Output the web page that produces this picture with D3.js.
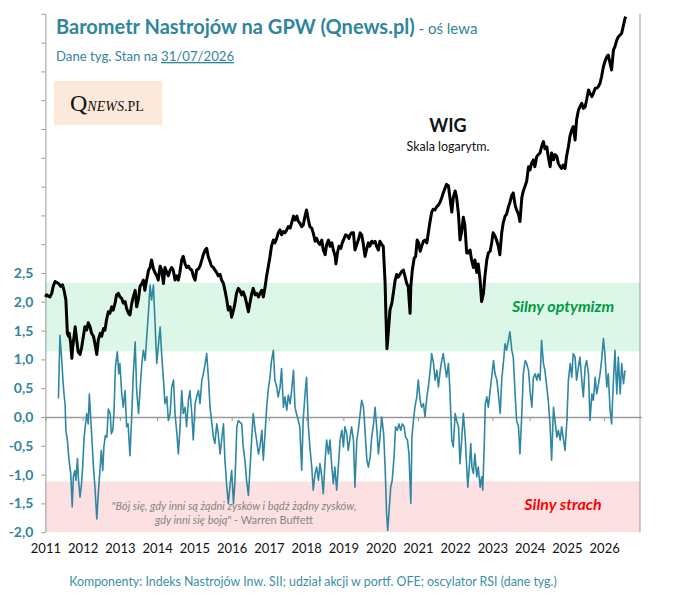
<!DOCTYPE html>
<html>
<head>
<meta charset="utf-8">
<script src="https://cdn.jsdelivr.net/npm/d3@7"></script>
<style>
  body { margin: 0; background: #fff; }
  svg { display: block; font-family: Lato, "Open Sans", sans-serif; }
</style>
</head>
<body>
<svg id="chart" width="673" height="605"></svg>
<script>
// x axis: years, left axis: barometer value (labels only -2,0 .. 2,5)
const yearTicks = [2011, 2012, 2013, 2014, 2015, 2016, 2017, 2018, 2019, 2020, 2021, 2022, 2023, 2024, 2025, 2026];
const leftTicks = [-2, -1.5, -1, -0.5, 0, 0.5, 1, 1.5, 2, 2.5, 3, 3.5, 4, 4.5, 5, 5.5, 6, 6.5, 7];
const lastLabelledTick = 2.5;

// strefy barometru
const optimismBand = [1.14, 2.33];
const fearBand = [-2.0, -1.12];

// WIG (skala logarytmiczna), [rok, punkty]
const wig = [
  [2011.00,47600],[2011.03,48000],[2011.12,47600],[2011.17,48300],[2011.21,49700],[2011.26,50700],[2011.35,50300],[2011.41,49700],
  [2011.46,50000],[2011.50,48900],[2011.55,47000],[2011.59,41000],[2011.62,40500],[2011.64,41000],[2011.68,39300],[2011.71,37000],
  [2011.73,38600],[2011.77,40500],[2011.80,42100],[2011.84,39900],[2011.88,38000],[2011.93,37600],[2011.97,38600],[2012.02,40500],
  [2012.06,42100],[2012.11,41550],[2012.15,42800],[2012.20,42100],[2012.24,41000],[2012.29,40500],[2012.33,39300],[2012.38,37600],
  [2012.42,39900],[2012.47,41000],[2012.51,40500],[2012.56,41800],[2012.60,41550],[2012.64,43300],[2012.69,44800],[2012.73,44500],
  [2012.78,45700],[2012.82,45100],[2012.87,46400],[2012.91,48000],[2012.96,48300],[2013.00,47600],[2013.05,47300],[2013.09,46400],
  [2013.14,46700],[2013.18,45400],[2013.23,44500],[2013.27,44200],[2013.32,46400],[2013.36,47600],[2013.41,48900],[2013.45,45700],
  [2013.50,47300],[2013.54,49700],[2013.59,50300],[2013.63,51000],[2013.67,48900],[2013.70,50300],[2013.74,51900],[2013.77,53150],
  [2013.81,53700],[2013.85,55400],[2013.90,53400],[2013.94,52600],[2013.99,51900],[2014.03,51000],[2014.08,54000],[2014.12,53150],
  [2014.17,50300],[2014.21,53700],[2014.26,52600],[2014.30,51900],[2014.35,53150],[2014.39,53700],[2014.43,53150],[2014.48,51000],
  [2014.52,51900],[2014.57,51000],[2014.61,52600],[2014.66,55400],[2014.70,56200],[2014.75,54500],[2014.79,53700],[2014.84,54000],
  [2014.88,53400],[2014.93,53150],[2014.97,51900],[2015.02,51000],[2015.06,53150],[2015.11,53400],[2015.15,54000],[2015.20,55400],
  [2015.24,56600],[2015.29,57700],[2015.33,58100],[2015.37,56200],[2015.42,55000],[2015.46,54000],[2015.51,53700],[2015.55,53150],
  [2015.60,52600],[2015.64,51900],[2015.69,52200],[2015.73,51000],[2015.78,50300],[2015.82,48900],[2015.87,47000],[2015.91,45100],
  [2015.96,45700],[2016.00,43800],[2016.05,45100],[2016.09,46400],[2016.13,48300],[2016.18,49300],[2016.22,48900],[2016.27,48000],
  [2016.31,48600],[2016.36,47600],[2016.40,46400],[2016.45,44800],[2016.49,46400],[2016.54,48300],[2016.58,49300],[2016.63,48000],
  [2016.67,48300],[2016.72,47600],[2016.76,48300],[2016.81,48900],[2016.85,47600],[2016.90,49700],[2016.94,51900],[2016.98,53700],
  [2017.03,56200],[2017.07,58600],[2017.12,60100],[2017.16,59400],[2017.21,60500],[2017.25,61900],[2017.30,62650],[2017.34,61400],
  [2017.39,62200],[2017.43,61900],[2017.48,62650],[2017.52,63500],[2017.57,63100],[2017.61,64450],[2017.66,66300],[2017.70,65250],
  [2017.75,66300],[2017.79,64850],[2017.83,64450],[2017.88,63500],[2017.92,63900],[2017.97,66300],[2018.01,68000],[2018.06,65250],
  [2018.10,63500],[2018.15,63100],[2018.19,61900],[2018.24,59800],[2018.28,60500],[2018.33,59400],[2018.37,59000],[2018.42,60100],
  [2018.46,57700],[2018.51,56600],[2018.55,59000],[2018.60,60100],[2018.64,58600],[2018.69,59400],[2018.73,57700],[2018.78,56200],
  [2018.80,54500],[2018.84,57000],[2018.88,58600],[2018.93,58100],[2018.97,59400],[2019.02,60500],[2019.06,61400],[2019.11,61100],
  [2019.15,60500],[2019.18,61400],[2019.22,61900],[2019.27,61900],[2019.31,57700],[2019.36,59000],[2019.40,60100],[2019.45,61900],
  [2019.49,61400],[2019.53,59400],[2019.58,56200],[2019.62,57700],[2019.67,59400],[2019.71,58600],[2019.76,59800],[2019.80,59400],
  [2019.85,59800],[2019.89,58600],[2019.94,57700],[2019.98,59800],[2020.03,59000],[2020.07,58600],[2020.12,50300],[2020.14,44500],
  [2020.17,38500],[2020.21,41550],[2020.25,45100],[2020.30,46400],[2020.34,48300],[2020.39,51000],[2020.43,52200],[2020.47,51600],
  [2020.52,52200],[2020.56,52800],[2020.61,53150],[2020.65,51900],[2020.70,50300],[2020.74,49700],[2020.79,44500],[2020.81,49700],
  [2020.85,53150],[2020.90,55800],[2020.94,56200],[2020.98,60100],[2021.02,59400],[2021.06,57400],[2021.10,58600],[2021.15,59800],
  [2021.19,60100],[2021.24,59400],[2021.28,61900],[2021.32,64450],[2021.37,67400],[2021.41,68200],[2021.46,68000],[2021.50,68800],
  [2021.55,69350],[2021.59,70100],[2021.64,71500],[2021.68,72900],[2021.73,74400],[2021.77,75500],[2021.82,75100],[2021.86,71500],
  [2021.91,67400],[2021.95,71500],[2022.00,73500],[2022.04,71500],[2022.09,66800],[2022.13,60100],[2022.17,61900],[2022.22,66000],
  [2022.26,63900],[2022.31,57000],[2022.35,57000],[2022.40,57700],[2022.44,55400],[2022.49,53700],[2022.53,55400],[2022.58,52600],
  [2022.62,54500],[2022.67,51000],[2022.71,46700],[2022.76,48300],[2022.80,51900],[2022.85,55400],[2022.89,57000],[2022.94,57400],
  [2022.98,59400],[2023.02,61900],[2023.07,61100],[2023.11,60100],[2023.16,58600],[2023.20,56600],[2023.25,61900],[2023.29,64450],
  [2023.34,66300],[2023.38,66800],[2023.43,68800],[2023.47,70100],[2023.52,72200],[2023.56,72900],[2023.61,69350],[2023.65,68000],
  [2023.70,66800],[2023.74,64850],[2023.79,71500],[2023.83,73500],[2023.88,75100],[2023.92,76500],[2023.97,81200],[2024.01,80100],
  [2024.05,82300],[2024.10,83500],[2024.14,81200],[2024.19,84600],[2024.23,85300],[2024.28,85900],[2024.32,88100],[2024.37,90000],
  [2024.41,87400],[2024.46,88100],[2024.50,84600],[2024.55,81200],[2024.59,85900],[2024.64,83500],[2024.68,85300],[2024.73,84600],
  [2024.77,82300],[2024.82,81200],[2024.86,80600],[2024.90,81700],[2024.95,80600],[2024.99,84600],[2025.04,88100],[2025.08,91800],
  [2025.13,94400],[2025.17,95700],[2025.22,90600],[2025.26,98400],[2025.31,102400],[2025.35,103800],[2025.40,105300],[2025.44,103100],
  [2025.49,103800],[2025.53,106800],[2025.58,111200],[2025.62,109700],[2025.67,108200],[2025.71,109700],[2025.76,112000],[2025.80,112000],
  [2025.84,112700],[2025.89,114300],[2025.93,117400],[2025.98,122300],[2026.02,124900],[2026.07,127400],[2026.11,128300],[2026.16,124000],
  [2026.20,120700],[2026.25,131000],[2026.29,132800],[2026.34,136400],[2026.38,138300],[2026.43,139300],[2026.47,140300],[2026.52,145100],
  [2026.56,149200],[2026.58,150200]
];

// Barometr Nastrojów (dane tyg.), [rok, wartość]
const sentiment = [
  [2011.35,0.32],[2011.39,1.42],[2011.44,0.98],[2011.47,0.64],[2011.50,0.40],[2011.53,0.20],[2011.55,-0.23],[2011.59,-0.40],
  [2011.62,-0.64],[2011.64,-0.78],[2011.68,-0.98],[2011.72,-1.56],[2011.75,-1.04],[2011.79,-0.93],[2011.82,-1.10],[2011.86,-0.72],
  [2011.89,-1.10],[2011.93,-1.39],[2011.97,-1.16],[2012.00,-0.87],[2012.04,-0.35],[2012.07,-0.17],[2012.11,0.06],[2012.15,-0.12],
  [2012.18,0.40],[2012.22,-0.06],[2012.25,-0.40],[2012.29,-0.87],[2012.33,-1.22],[2012.38,-1.77],[2012.42,-1.33],[2012.47,-0.87],
  [2012.50,-0.58],[2012.54,-0.93],[2012.57,-0.52],[2012.61,-0.32],[2012.65,-0.35],[2012.69,0.14],[2012.74,0.06],[2012.77,-0.29],
  [2012.81,-0.23],[2012.84,0.06],[2012.88,0.87],[2012.93,1.13],[2012.97,0.75],[2013.00,0.93],[2013.05,0.40],[2013.09,0.17],
  [2013.14,0.46],[2013.18,-0.17],[2013.22,-0.12],[2013.27,-0.67],[2013.32,0.06],[2013.36,0.75],[2013.41,1.30],[2013.45,0.46],
  [2013.50,0.06],[2013.54,0.46],[2013.59,0.93],[2013.63,1.16],[2013.68,0.98],[2013.72,1.39],[2013.77,1.85],[2013.81,2.29],
  [2013.85,2.03],[2013.90,2.29],[2013.94,1.68],[2013.99,0.93],[2014.03,1.22],[2014.08,1.56],[2014.12,1.10],[2014.17,0.64],
  [2014.21,0.23],[2014.26,0.35],[2014.30,-0.06],[2014.35,0.06],[2014.39,0.52],[2014.44,0.64],[2014.48,0.06],[2014.53,-0.29],
  [2014.57,-0.64],[2014.62,-0.12],[2014.66,0.46],[2014.70,0.06],[2014.75,0.17],[2014.79,-0.17],[2014.84,0.29],[2014.88,0.46],
  [2014.93,0.06],[2014.97,-0.40],[2015.02,0.23],[2015.06,0.35],[2015.11,0.46],[2015.15,0.23],[2015.20,0.64],[2015.24,0.75],
  [2015.29,0.93],[2015.33,1.10],[2015.38,0.64],[2015.42,0.17],[2015.47,-0.12],[2015.51,-0.35],[2015.55,-0.46],[2015.60,-0.12],
  [2015.64,-0.29],[2015.69,-0.64],[2015.73,-0.40],[2015.78,-0.12],[2015.82,-0.75],[2015.87,-1.22],[2015.91,-1.50],[2015.96,-1.16],
  [2016.00,-0.93],[2016.05,-1.50],[2016.09,-1.10],[2016.14,-0.17],[2016.18,-0.06],[2016.22,-0.09],[2016.27,-0.12],[2016.31,-0.52],
  [2016.36,-0.78],[2016.40,-1.10],[2016.45,-1.36],[2016.49,-0.93],[2016.54,-0.35],[2016.58,0.06],[2016.63,-0.23],[2016.67,-0.40],
  [2016.72,-0.64],[2016.76,-0.52],[2016.81,-0.23],[2016.85,-0.75],[2016.89,-0.35],[2016.94,0.17],[2016.98,0.46],[2017.03,0.69],
  [2017.07,0.98],[2017.12,1.16],[2017.16,0.64],[2017.21,0.52],[2017.25,0.35],[2017.30,0.52],[2017.34,0.84],[2017.39,0.17],
  [2017.43,0.35],[2017.48,0.12],[2017.52,0.38],[2017.57,0.23],[2017.61,0.46],[2017.66,0.81],[2017.70,0.17],[2017.74,0.06],
  [2017.79,-0.06],[2017.83,-0.17],[2017.88,-0.93],[2017.92,-0.06],[2017.97,0.40],[2018.01,0.69],[2018.06,-0.17],[2018.10,-0.52],
  [2018.15,-0.87],[2018.19,-1.27],[2018.24,-0.98],[2018.28,-0.87],[2018.33,-1.10],[2018.37,-0.81],[2018.42,-1.04],[2018.46,-1.33],
  [2018.51,-0.75],[2018.55,-0.40],[2018.60,-0.64],[2018.64,-0.40],[2018.69,-0.87],[2018.73,-1.16],[2018.77,-0.87],[2018.82,-1.27],
  [2018.87,-0.81],[2018.91,-0.40],[2018.96,-0.23],[2019.00,-0.52],[2019.04,-0.17],[2019.09,-0.29],[2019.13,-0.58],[2019.18,-0.35],
  [2019.22,-0.17],[2019.27,-0.40],[2019.31,-1.22],[2019.36,-0.40],[2019.40,-0.23],[2019.45,0.06],[2019.49,0.29],[2019.54,0.17],
  [2019.58,-0.23],[2019.63,-0.75],[2019.67,-0.87],[2019.72,-0.69],[2019.76,-0.35],[2019.81,-0.12],[2019.85,0.17],[2019.90,-0.23],
  [2019.94,-0.64],[2019.99,-0.29],[2020.03,0.00],[2020.08,-0.29],[2020.12,-0.87],[2020.16,-1.68],[2020.19,-1.97],[2020.22,-1.68],
  [2020.27,-1.22],[2020.31,-1.10],[2020.36,-0.69],[2020.40,-0.17],[2020.45,-0.23],[2020.49,-0.12],[2020.54,-0.23],[2020.58,-0.12],
  [2020.63,-0.17],[2020.67,-0.35],[2020.72,-0.40],[2020.76,-0.64],[2020.81,-1.50],[2020.84,-0.35],[2020.88,-0.06],[2020.92,0.17],
  [2020.97,0.35],[2021.01,0.64],[2021.06,0.29],[2021.10,0.17],[2021.15,0.23],[2021.19,0.00],[2021.24,0.35],[2021.28,0.52],
  [2021.33,0.81],[2021.37,1.10],[2021.42,0.93],[2021.46,0.64],[2021.51,0.81],[2021.55,0.52],[2021.60,0.81],[2021.64,0.98],
  [2021.68,1.10],[2021.73,0.87],[2021.77,0.69],[2021.82,0.93],[2021.86,0.46],[2021.91,-0.40],[2021.95,-0.52],[2022.00,0.06],
  [2022.04,-0.06],[2022.09,-0.17],[2022.13,-0.81],[2022.18,-0.35],[2022.22,0.06],[2022.27,-0.35],[2022.31,-0.87],[2022.34,-1.22],
  [2022.38,-0.87],[2022.42,-0.46],[2022.45,-0.87],[2022.49,-0.98],[2022.53,-0.64],[2022.58,-1.04],[2022.62,-0.87],[2022.67,-1.22],
  [2022.71,-1.04],[2022.74,-1.27],[2022.78,-0.52],[2022.81,0.23],[2022.85,0.35],[2022.89,0.17],[2022.94,0.46],[2022.98,0.69],
  [2023.03,0.98],[2023.07,0.75],[2023.12,0.64],[2023.16,0.40],[2023.21,0.06],[2023.25,0.64],[2023.30,0.98],[2023.34,1.27],
  [2023.38,1.16],[2023.43,1.33],[2023.47,1.48],[2023.52,1.16],[2023.56,1.04],[2023.61,0.40],[2023.65,-0.06],[2023.70,-0.17],
  [2023.74,-0.64],[2023.79,0.06],[2023.83,0.75],[2023.88,0.98],[2023.92,0.93],[2023.97,0.81],[2024.01,0.46],[2024.06,0.17],
  [2024.10,0.69],[2024.15,0.75],[2024.19,0.64],[2024.23,0.75],[2024.28,0.64],[2024.32,1.33],[2024.37,0.93],[2024.41,0.81],
  [2024.46,0.52],[2024.50,0.29],[2024.55,-0.17],[2024.59,-0.75],[2024.64,0.17],[2024.68,-0.06],[2024.73,-0.35],[2024.77,-0.23],
  [2024.82,-0.40],[2024.86,-0.17],[2024.91,-0.40],[2024.95,-0.58],[2025.00,-0.06],[2025.04,0.64],[2025.09,0.93],[2025.13,0.69],
  [2025.17,1.10],[2025.22,1.04],[2025.26,0.64],[2025.31,0.87],[2025.35,1.04],[2025.40,0.64],[2025.44,0.35],[2025.49,0.87],
  [2025.53,0.98],[2025.58,0.75],[2025.62,-0.06],[2025.67,0.40],[2025.71,0.29],[2025.76,0.69],[2025.80,0.40],[2025.85,0.58],
  [2025.89,0.75],[2025.94,1.04],[2025.98,1.36],[2026.02,1.10],[2026.07,0.52],[2026.11,0.75],[2026.16,0.12],[2026.20,-0.12],
  [2026.25,0.64],[2026.29,1.16],[2026.34,0.40],[2026.38,1.04],[2026.43,0.40],[2026.47,0.93],[2026.52,0.58],[2026.56,0.81]
];

const teal = "#31859c";
const oscColor = "#2f87a2";
const axisGray = "#9a9a9a";

const svg = d3.select("#chart");

const plot = { left: 45.4, right: 641.4, top: 13.8, bottom: 532.2 };

const x = d3.scaleLinear()
    .domain([2011, 2027])
    .range([plot.left, plot.right]);

const y = d3.scaleLinear()
    .domain([-2, 7])
    .range([plot.bottom, plot.top]);

// WIG on its own log scale (no axis drawn in the original)
const yWig = d3.scaleLog()
    .domain([30000, 200000])
    .range([409.5, -53.2]);

const plLocale = d3.formatLocale({ decimal: ",", thousands: " ", grouping: [3], currency: ["", " zł"], minus: "-" });
const fmt = plLocale.format(".1f");

// Bands
svg.append("rect")
    .attr("x", plot.left)
    .attr("width", 640 - plot.left)
    .attr("y", y(optimismBand[1]))
    .attr("height", y(optimismBand[0]) - y(optimismBand[1]))
    .attr("fill", "#dcf6e7");

svg.append("rect")
    .attr("x", plot.left)
    .attr("width", 640 - plot.left)
    .attr("y", y(fearBand[1]))
    .attr("height", y(fearBand[0]) - y(fearBand[1]))
    .attr("fill", "#fde0e1");

// Left axis
const yAxis = svg.append("g")
    .attr("transform", `translate(${plot.left},0)`)
    .call(d3.axisLeft(y)
        .tickValues(leftTicks)
        .tickSize(4)
        .tickSizeOuter(0)
        .tickPadding(8)
        .tickFormat(d => d <= lastLabelledTick ? fmt(d) : ""));
yAxis.selectAll("path, line").attr("stroke", axisGray);
yAxis.selectAll("text")
    .attr("fill", teal)
    .attr("font-family", "Lato")
    .attr("font-weight", "bold")
    .attr("font-size", 14);

// Right border
svg.append("line")
    .attr("x1", 640).attr("x2", 640)
    .attr("y1", plot.top).attr("y2", plot.bottom)
    .attr("stroke", axisGray);

// Zero line with year ticks
const zeroAxis = svg.append("g")
    .attr("transform", `translate(0,${y(0)})`)
    .call(d3.axisBottom(x)
        .tickValues(yearTicks)
        .tickSize(4)
        .tickSizeOuter(0)
        .tickFormat(""));
zeroAxis.select(".domain").attr("stroke", axisGray).attr("stroke-width", 1.6);
zeroAxis.selectAll(".tick line").attr("stroke", axisGray);

// Year labels at the bottom
const xAxis = svg.append("g")
    .attr("transform", `translate(0,${plot.bottom})`)
    .call(d3.axisBottom(x)
        .tickValues(yearTicks)
        .tickSize(0)
        .tickPadding(11.5)
        .tickFormat(d3.format("d")));
xAxis.select(".domain").remove();
xAxis.selectAll("text")
    .attr("fill", "#111")
    .attr("font-family", "Lato")
    .attr("font-size", 13);

// WIG
svg.append("path")
    .datum(wig)
    .attr("fill", "none")
    .attr("stroke", "#000")
    .attr("stroke-width", 3)
    .attr("stroke-linejoin", "round")
    .attr("d", d3.line().x(d => x(d[0])).y(d => yWig(d[1])));

// Barometr
svg.append("path")
    .datum(sentiment)
    .attr("fill", "none")
    .attr("stroke", oscColor)
    .attr("stroke-width", 1.6)
    .attr("stroke-linejoin", "round")
    .attr("d", d3.line().x(d => x(d[0])).y(d => y(d[1])));

// Titles
const title = svg.append("text")
    .attr("x", 56)
    .attr("y", 34)
    .attr("fill", teal);
title.append("tspan")
    .attr("font-weight", "bold")
    .attr("font-size", 20)
    .text("Barometr Nastrojów na GPW (Qnews.pl)");
title.append("tspan")
    .attr("font-size", 15)
    .text(" - oś lewa");

const sub = svg.append("text")
    .attr("x", 56)
    .attr("y", 61)
    .attr("fill", teal)
    .attr("font-size", 13.2);
sub.append("tspan").text("Dane tyg. Stan na ");
sub.append("tspan").attr("text-decoration", "underline").text("31/07/2026");

// Logo
svg.append("rect")
    .attr("x", 54).attr("y", 81)
    .attr("width", 108).attr("height", 44)
    .attr("fill", "#fde9d9");
const logo = svg.append("text")
    .attr("x", 70)
    .attr("y", 111)
    .attr("fill", "#111")
    .attr("font-family", "Liberation Serif, serif");
logo.append("tspan").attr("font-size", 24).text("Q");
logo.append("tspan").attr("font-size", 14).attr("font-style", "italic").text("NEWS");
logo.append("tspan").attr("font-size", 14).text(".PL");

// WIG label
svg.append("text")
    .attr("x", 448).attr("y", 132)
    .attr("text-anchor", "middle")
    .attr("font-weight", "bold")
    .attr("font-size", 18)
    .attr("fill", "#111")
    .text("WIG");
svg.append("text")
    .attr("x", 448).attr("y", 151)
    .attr("text-anchor", "middle")
    .attr("font-size", 12.5)
    .attr("fill", "#111")
    .text("Skala logarytm.");

// Zone labels
svg.append("text")
    .attr("x", 563).attr("y", 312)
    .attr("text-anchor", "middle")
    .attr("font-weight", "bold")
    .attr("font-style", "italic")
    .attr("font-size", 16)
    .attr("fill", "#009a44")
    .text("Silny optymizm");
svg.append("text")
    .attr("x", 563).attr("y", 510)
    .attr("text-anchor", "middle")
    .attr("font-weight", "bold")
    .attr("font-style", "italic")
    .attr("font-size", 16)
    .attr("fill", "#ff0000")
    .text("Silny strach");

// Quote
const quote = svg.append("g")
    .attr("fill", "#858585")
    .attr("font-size", 11)
    .attr("text-anchor", "middle");
quote.append("text")
    .attr("x", 234).attr("y", 510)
    .attr("font-style", "italic")
    .text("\"Bój się, gdy inni są żądni zysków i bądź żądny zysków,");
const q2 = quote.append("text")
    .attr("x", 234).attr("y", 523.5);
q2.append("tspan").attr("font-style", "italic").text("gdy inni się boją\"");
q2.append("tspan").text(" - Warren Buffett");

// Footer
svg.append("text")
    .attr("x", 313).attr("y", 586)
    .attr("text-anchor", "middle")
    .attr("font-size", 12.4)
    .attr("fill", "#3a8fa8")
    .text("Komponenty: Indeks Nastrojów Inw. SII; udział akcji w portf. OFE; oscylator RSI (dane tyg.)");
</script>
</body>
</html>
